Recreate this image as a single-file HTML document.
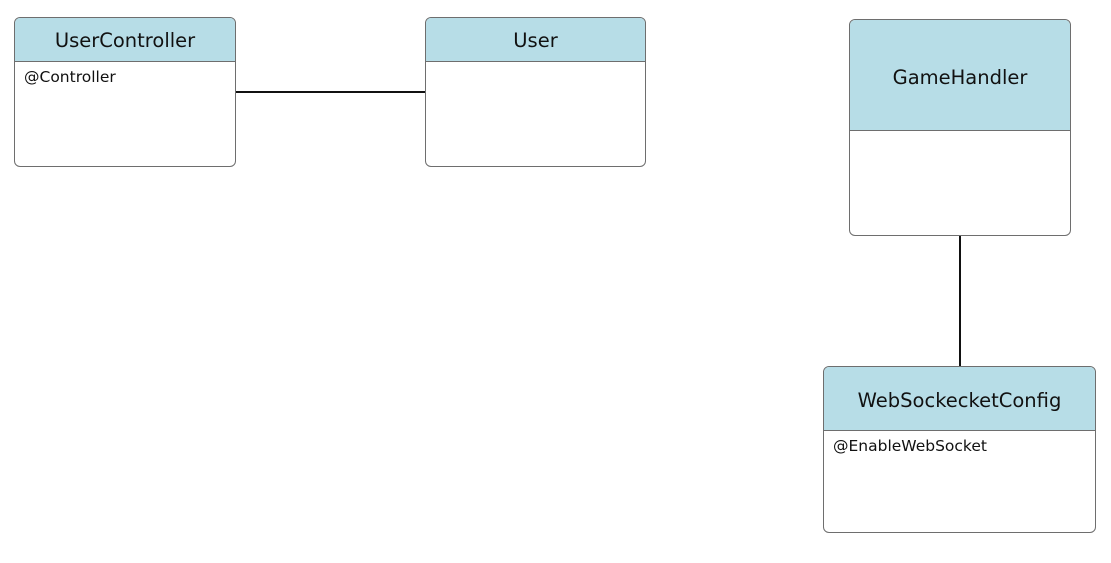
<!DOCTYPE html>
<html><head><meta charset="utf-8"><style>
html,body{margin:0;padding:0;background:#fff;width:1111px;height:563px;overflow:hidden;font-family:"DejaVu Sans","Liberation Sans",sans-serif;}
.b{position:absolute;box-sizing:border-box;border:1px solid #6e6e6e;border-radius:6px;background:#fff;overflow:hidden;}
.h{background:#b7dde7;border-bottom:1px solid #6e6e6e;box-sizing:border-box;display:flex;align-items:center;justify-content:center;font-size:19.5px;color:#111;}
.a{font-size:15.5px;padding:6px 0 0 9px;color:#111;}
.l{position:absolute;background:#111;}
</style></head><body>
<div class="l" style="left:235px;top:91px;width:190px;height:1.5px"></div>
<div class="l" style="left:959px;top:235px;width:1.5px;height:131px"></div>
<div class="b" style="left:14px;top:17px;width:222px;height:150px"><div class="h" style="height:44px;padding-top:2px">UserController</div><div class="a">@Controller</div></div>
<div class="b" style="left:425px;top:17px;width:221px;height:150px"><div class="h" style="height:44px;padding-top:2px">User</div></div>
<div class="b" style="left:849px;top:19px;width:222px;height:217px"><div class="h" style="height:111px;padding-top:4px">GameHandler</div></div>
<div class="b" style="left:823px;top:366px;width:273px;height:167px"><div class="h" style="height:64px;padding-top:3px">WebSockecketConfig</div><div class="a">@EnableWebSocket</div></div>
</body></html>
